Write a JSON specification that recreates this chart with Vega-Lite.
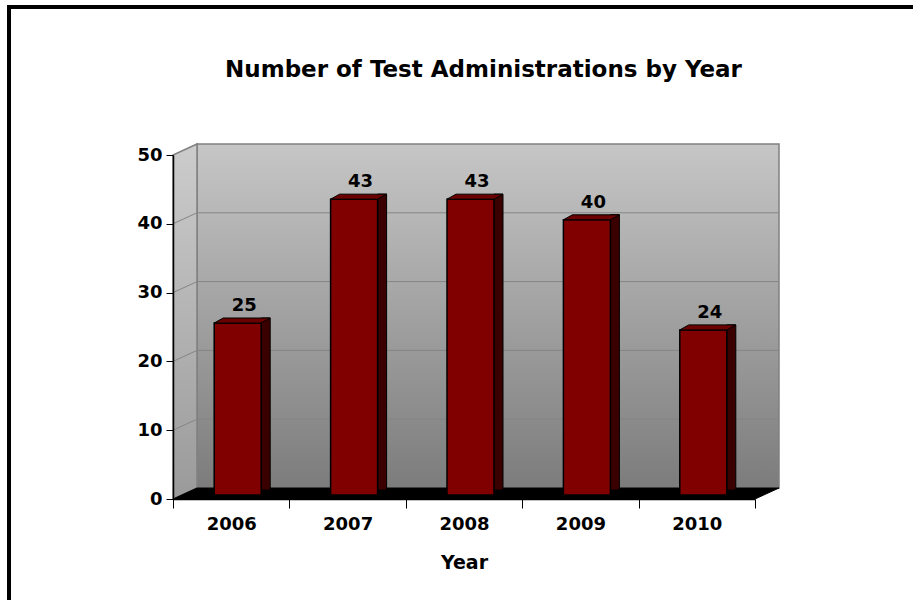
{
  "$schema": "https://vega.github.io/schema/vega-lite/v6.json",
  "width": 582,
  "height": 344,
  "autosize": {"type": "none"},
  "padding": {"left": 173, "top": 155, "right": 158, "bottom": 101},
  "background": "white",
  "config": {
    "view": {"stroke": null},
    "font": "DejaVu Sans"
  },
  "title": {
    "text": "Number of Test Administrations by Year",
    "font": "DejaVu Sans",
    "fontSize": 23,
    "fontWeight": "bold",
    "color": "black",
    "frame": "group",
    "anchor": "middle",
    "offset": 0,
    "baseline": "alphabetic",
    "dx": 19.5,
    "dy": 95
  },
  "data": {
    "values": [
      {"Year": "2006", "Value": 25},
      {"Year": "2007", "Value": 43},
      {"Year": "2008", "Value": 43},
      {"Year": "2009", "Value": 40},
      {"Year": "2010", "Value": 24}
    ]
  },
  "resolve": {"scale": {"x": "independent"}},
  "layer": [
    {
      "data": {"values": [{"g": 10}, {"g": 20}, {"g": 30}, {"g": 40}]},
      "layer": [
        {
          "data": {"values": [{}]},
          "mark": {
            "type": "rect",
            "xOffset": 24, "x2Offset": 24, "yOffset": -11, "y2Offset": -11,
            "fill": {"gradient": "linear", "x1": 0, "y1": 0, "x2": 0, "y2": 1,
              "stops": [{"offset": 0, "color": "#c6c6c6"}, {"offset": 1, "color": "#7c7c7c"}]},
            "stroke": "#808080", "strokeWidth": 1.5
          },
          "encoding": {
            "x": {"datum": 0, "type": "quantitative", "scale": {"domain": [0, 5], "nice": false, "zero": false}, "axis": null},
            "x2": {"datum": 5},
            "y": {"datum": 0, "type": "quantitative"},
            "y2": {"datum": 50}
          }
        },
        {
          "data": {"values": [{}]},
          "mark": {
            "type": "point",
            "shape": "M0,0L0,-344L24,-355L24,-11Z",
            "size": 4, "filled": true, "opacity": 1,
            "fill": {"gradient": "linear", "x1": 0, "y1": 0, "x2": 0, "y2": 1,
              "stops": [{"offset": 0, "color": "#cccccc"}, {"offset": 1, "color": "#9a9a9a"}]},
            "stroke": "#808080", "strokeWidth": 1.5
          },
          "encoding": {
            "x": {"datum": 0, "type": "quantitative", "scale": {"domain": [0, 5], "nice": false, "zero": false}, "axis": null},
            "y": {"datum": 0, "type": "quantitative"}
          }
        },
        {
          "mark": {"type": "rule", "xOffset": 24, "x2Offset": 24, "yOffset": -11, "color": "#858585", "strokeWidth": 1},
          "encoding": {
            "x": {"datum": 0, "type": "quantitative", "scale": {"domain": [0, 5], "nice": false, "zero": false}, "axis": null},
            "x2": {"datum": 5},
            "y": {"field": "g", "type": "quantitative", "title": null}
          }
        },
        {
          "mark": {"type": "rule", "x2Offset": 24, "y2Offset": -11, "color": "#858585", "strokeWidth": 1},
          "encoding": {
            "x": {"datum": 0, "type": "quantitative", "scale": {"domain": [0, 5], "nice": false, "zero": false}, "axis": null},
            "x2": {"datum": 0},
            "y": {"field": "g", "type": "quantitative", "title": null},
            "y2": {"field": "g"}
          }
        },
        {
          "data": {"values": [{}]},
          "mark": {
            "type": "point",
            "shape": "M0,0L582,0L606,-11L24,-11Z",
            "size": 4, "filled": true, "opacity": 1,
            "fill": "black", "stroke": "black", "strokeWidth": 1
          },
          "encoding": {
            "x": {"datum": 0, "type": "quantitative", "scale": {"domain": [0, 5], "nice": false, "zero": false}, "axis": null},
            "y": {"datum": 0, "type": "quantitative"}
          }
        },
        {
          "data": {"values": [{}]},
          "mark": {
            "type": "rect", "filled": false,
            "xOffset": -164, "x2Offset": 200, "yOffset": -148, "y2Offset": 110,
            "stroke": "black", "strokeWidth": 4
          },
          "encoding": {
            "x": {"datum": 0, "type": "quantitative", "scale": {"domain": [0, 5], "nice": false, "zero": false}, "axis": null},
            "x2": {"datum": 5},
            "y": {"datum": 50, "type": "quantitative"},
            "y2": {"datum": 0}
          }
        }
      ]
    },
    {
      "encoding": {
        "x": {
          "field": "Year", "type": "ordinal",
          "scale": {"paddingInner": 0, "paddingOuter": 0},
          "axis": {
            "title": "Year",
            "labelAngle": 0,
            "tickBand": "extent",
            "domainColor": "black", "domainWidth": 1.5,
            "tickColor": "black", "tickSize": 9, "tickWidth": 1,
            "labelFont": "DejaVu Sans", "labelFontSize": 18, "labelFontWeight": "bold", "labelColor": "black",
            "labelPadding": 7,
            "titleFont": "DejaVu Sans", "titleFontSize": 19, "titleFontWeight": "bold", "titleColor": "black",
            "titlePadding": 20,
            "grid": false,
            "zindex": 2
          }
        },
        "y": {
          "field": "Value", "type": "quantitative",
          "scale": {"domain": [0, 50], "nice": false},
          "title": null,
          "axis": {
            "values": [0, 10, 20, 30, 40, 50],
            "domainColor": "black", "domainWidth": 1.5,
            "tickColor": "black", "tickSize": 7, "tickWidth": 1,
            "labelFont": "DejaVu Sans", "labelFontSize": 18, "labelFontWeight": "bold", "labelColor": "black",
            "labelPadding": 4,
            "grid": false,
            "zindex": 2
          }
        }
      },
      "layer": [
        {
          "mark": {"type": "bar", "width": 9, "xOffset": 34.5, "yOffset": -9, "y2Offset": -4,
            "fill": "#3a0000", "stroke": "black", "strokeWidth": 1}
        },
        {
          "mark": {"type": "bar", "width": 47, "xOffset": 6.5, "yOffset": -4, "y2Offset": -4,
            "fill": "#800000", "stroke": "black", "strokeWidth": 1.5}
        },
        {
          "mark": {"type": "point", "shape": "M-23.5,-4L23.5,-4L32.5,-9L-14.5,-9Z", "size": 4,
            "filled": true, "opacity": 1, "xOffset": 6.5,
            "fill": "#6a0000", "stroke": "black", "strokeWidth": 1}
        },
        {
          "mark": {"type": "text", "font": "DejaVu Sans", "fontSize": 18, "fontWeight": "bold",
            "color": "black", "baseline": "alphabetic", "dx": 13, "dy": -16},
          "encoding": {"text": {"field": "Value", "type": "quantitative"}}
        }
      ]
    }
  ]
}
